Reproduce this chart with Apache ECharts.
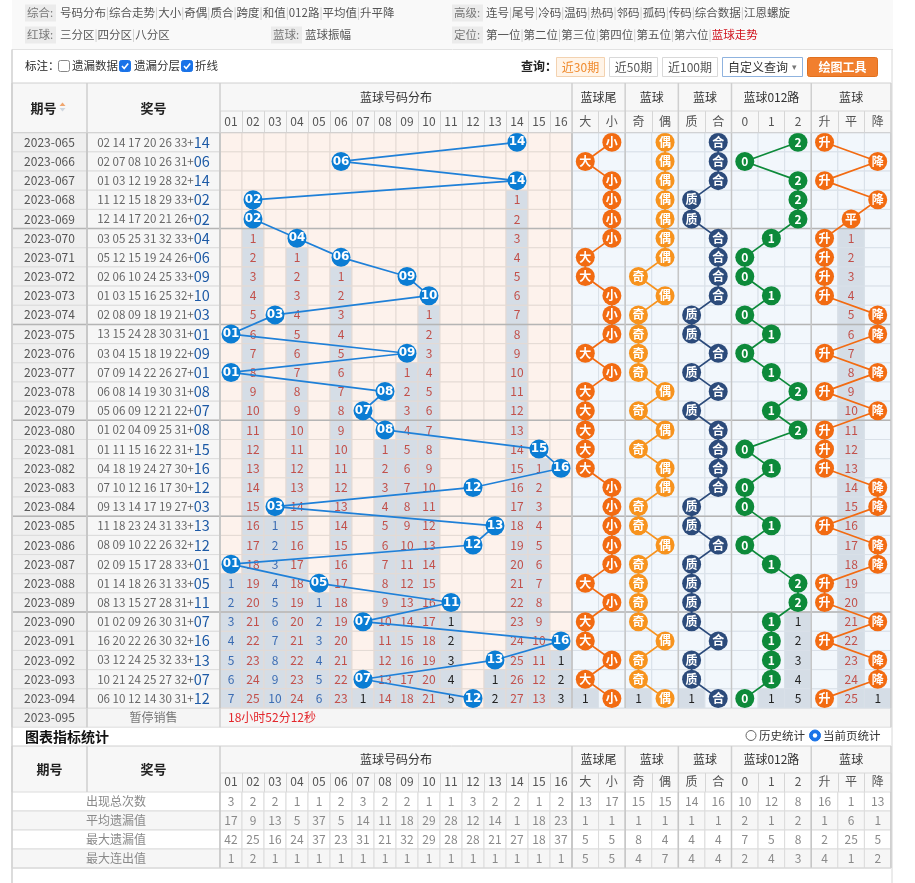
<!DOCTYPE html>
<html><head><meta charset="utf-8">
<script src="https://cdn.jsdelivr.net/npm/echarts/dist/echarts.min.js"></script>
<style>html,body{margin:0;padding:0;background:#fff}#c{width:915px;height:883px}</style>
</head><body><div id="c"></div>
<script>
// ---------------- DATA ----------------
const periods = ['2023-065','2023-066','2023-067','2023-068','2023-069','2023-070','2023-071','2023-072','2023-073','2023-074',
  '2023-075','2023-076','2023-077','2023-078','2023-079','2023-080','2023-081','2023-082','2023-083','2023-084',
  '2023-085','2023-086','2023-087','2023-088','2023-089','2023-090','2023-091','2023-092','2023-093','2023-094'];
const redBalls = ['02 14 17 20 26 33','02 07 08 10 26 31','01 03 12 19 28 32','11 12 15 18 29 33','12 14 17 20 21 26',
  '03 05 25 31 32 33','05 12 15 19 24 26','02 06 10 24 25 33','01 03 15 16 25 32','02 08 09 18 19 21',
  '13 15 24 28 30 31','03 04 15 18 19 22','07 09 14 22 26 27','06 08 14 19 30 31','05 06 09 12 21 22',
  '01 02 04 09 25 31','01 11 15 16 22 31','04 18 19 24 27 30','07 10 12 16 17 30','09 13 14 17 19 27',
  '11 18 23 24 31 33','08 09 10 22 26 32','02 09 15 17 28 33','01 14 18 26 31 33','08 13 15 27 28 31',
  '01 02 09 26 30 31','16 20 22 26 30 32','03 12 24 25 32 33','10 21 24 25 27 32','06 10 12 14 30 31'];
const blueBalls = ['14','06','14','02','02','04','06','09','10','03','01','09','01','08','07',
  '08','15','16','12','03','13','12','01','05','11','07','16','13','07','12'];
const blueCols = ['01','02','03','04','05','06','07','08','09','10','11','12','13','14','15','16'];
const tailSize = ['小','大','小','小','小','小','大','大','小','小','小','大','小','大','大',
  '大','大','大','小','小','小','小','小','大','小','大','大','小','大','小'];
const parity = ['偶','偶','偶','偶','偶','偶','偶','奇','偶','奇','奇','奇','奇','偶','奇',
  '偶','奇','偶','偶','奇','奇','偶','奇','奇','奇','奇','偶','奇','奇','偶'];
const primality = ['合','合','合','质','质','合','合','合','合','质','质','合','质','合','质',
  '合','合','合','合','质','质','合','质','质','质','质','合','质','质','合'];
const route012 = ['2','0','2','2','2','1','0','0','1','0','1','0','1','2','1',
  '2','0','1','0','0','1','0','1','2','2','1','1','1','1','0'];
const trend = ['升','降','升','降','平','升','升','升','升','降','降','升','降','升','降',
  '升','升','升','降','降','升','降','降','升','升','降','升','降','降','升'];
const rightCols = ['大','小','奇','偶','质','合','0','1','2','升','平','降'];
const statLabels = ['出现总次数','平均遗漏值','最大遗漏值','最大连出值'];
const statTotal  = [3,2,2,1,1,2,3,2,2,1,1,3,2,2,1,2, 13,17,15,15,14,16,10,12,8,16,1,13];
const statAvg    = [17,9,13,5,37,5,14,11,18,29,28,12,14,1,18,23, 1,1,1,1,1,1,2,1,2,1,6,1];
const statMax    = [42,25,16,24,37,23,31,21,32,29,28,28,21,27,18,37, 5,5,8,4,4,4,7,5,8,2,25,5];
const statStreak = [1,2,1,1,1,1,1,1,1,1,1,1,1,1,1,1, 5,5,4,7,4,4,2,4,3,4,1,2];
const groupTitles = ['蓝球尾','蓝球','蓝球','蓝球012路','蓝球'];
const navRow1a = ['号码分布','综合走势','大小','奇偶','质合','跨度','和值','012路','平均值','升平降'];
const navRow1b = ['连号','尾号','冷码','温码','热码','邻码','孤码','传码','综合数据','江恩螺旋'];
const navRow2a = ['三分区','四分区','八分区'];
const navRow2b = ['蓝球振幅'];
const navRow2c = ['第一位','第二位','第三位','第四位','第五位','第六位','蓝球走势'];

// ---------------- LAYOUT ----------------
const FONT = "'Noto Sans CJK SC','Noto Sans',sans-serif";
const X0 = 12, X1 = 891;
const QI = [12, 75], JIANG = [87, 133], DIST = [220, 352], RIGHT = [572, 319];
const MAIN_TOP = 132.7, MAIN_H = 575.3;
const STAT_TOP = 792, STAT_H = 76;
const HDR1 = {top: 83, mid: 111, bot: MAIN_TOP};
const HDR2 = {top: 746, mid: 773, bot: STAT_TOP};
const RCW = RIGHT[1] / 12;
const groupSpans = [[0,2],[2,4],[4,6],[6,9],[9,12]];
const groupDefs = [
  {vals: tailSize, cats: ['大','小'], color: '#f26b12'},
  {vals: parity, cats: ['奇','偶'], color: '#f7931e'},
  {vals: primality, cats: ['质','合'], color: '#2c4b7b'},
  {vals: route012, cats: ['0','1','2'], color: '#0d8a3a'},
  {vals: trend, cats: ['升','平','降'], color: '#f26b12'}
];
const GRAY = '#d5dde6';
const ROWS = periods.length;

function omissionColor(n){ return n <= 5 ? '#222' : (n <= 10 ? '#3b6cb3' : '#c2504a'); }
// omission layer: cells after the last appearance of each category
function layer(values, cats, offset){
  const out = [];
  cats.forEach((cat, ci) => {
    let last = -1;
    values.forEach((v, r) => { if (v === cat) last = r; });
    if (last < 0) return;
    const fin = values.length - 1 - last;
    for (let r = last + 1; r < values.length; r++) out.push({c: ci + offset, r, n: r - last, color: omissionColor(fin)});
  });
  return out;
}
const distLayer = layer(blueBalls, blueCols, 0);
let rightLayer = [];
groupDefs.forEach((g, gi) => { rightLayer = rightLayer.concat(layer(g.vals, g.cats, groupSpans[gi][0])); });
const distGray = new Set(distLayer.map(d => d.c + '_' + d.r));
const rightGray = new Set(rightLayer.map(d => d.c + '_' + d.r));

// ---------------- SERIES HELPERS ----------------
function cellSeries(gi, nCols, nRows, fillFn, stroke){
  const data = [];
  for (let r = 0; r < nRows; r++) for (let c = 0; c < nCols; c++) data.push([c, r]);
  return {type:'custom', xAxisIndex: gi, yAxisIndex: gi, z: 1, silent: true, data,
    renderItem(p, api){
      const c = api.value(0), r = api.value(1);
      const pt = api.coord([c, r]), sz = api.size([1, 1]);
      return {type:'rect', shape:{x: pt[0]-sz[0]/2, y: pt[1]-sz[1]/2, width: sz[0], height: sz[1]},
        style:{fill: fillFn(c, r), stroke, lineWidth: 1}};
    }};
}
function sepSeries(gi, rows, cols, edges){
  const data = rows.map(r => [0, r, 0]).concat(cols.map(c => [c, 0, 1]));
  if (edges) { data.push([0,0,2]); data.push([0,0,3]); }
  return {type:'custom', xAxisIndex: gi, yAxisIndex: gi, z: 3, silent: true, data,
    renderItem(p, api){
      const cs = p.coordSys;
      const t = api.value(2);
      const pt = api.coord([api.value(0), api.value(1)]), sz = api.size([1, 1]);
      if (t === 0) { const y = pt[1]-sz[1]/2; return {type:'line', shape:{x1: cs.x, y1: y, x2: cs.x+cs.width, y2: y}, style:{stroke:'#b5b5b5', lineWidth: 1.5}}; }
      let x = t === 1 ? pt[0]-sz[0]/2 : (t === 2 ? cs.x : cs.x + cs.width);
      return {type:'line', shape:{x1: x, y1: cs.y, x2: x, y2: cs.y+cs.height}, style:{stroke:'#c6c6c6', lineWidth: 1.5}};
    }};
}
function textSeries(gi, items){
  return {type:'custom', xAxisIndex: gi, yAxisIndex: gi, z: 5, silent: true,
    data: items.map(it => [it.c, it.r]),
    renderItem(p, api){
      const it = items[p.dataIndex];
      const pt = api.coord([api.value(0), api.value(1)]);
      return {type:'text', style:{text: it.text, x: pt[0], y: pt[1], align:'center', verticalAlign:'middle',
        textAlign:'center', textVerticalAlign:'middle', fill: it.color || '#555', font: it.font || ('12px ' + FONT), rich: it.rich}};
    }};
}
function ballSeries(gi, data, color, lineColor, font){
  return [
    {type:'line', xAxisIndex: gi, yAxisIndex: gi, z: 6, silent: true, symbol:'none', data,
      lineStyle:{color: lineColor, width: 1.7}},
    {type:'scatter', xAxisIndex: gi, yAxisIndex: gi, z: 7, silent: true, data, symbolSize: 19,
      itemStyle:{color, opacity: 1},
      label:{show: true, position:'inside', formatter: p => p.value[0], color:'#fff', fontSize: 12,
        fontWeight: 'bold', fontFamily: font}}
  ];
}

// ---------------- AXES ----------------
function gridDef(l, t, w, h){ return {left: l, top: t, width: w, height: h, containLabel: false, show: false}; }
const grids = [
  gridDef(QI[0], MAIN_TOP, QI[1], MAIN_H), gridDef(JIANG[0], MAIN_TOP, JIANG[1], MAIN_H),
  gridDef(DIST[0], MAIN_TOP, DIST[1], MAIN_H), gridDef(RIGHT[0], MAIN_TOP, RIGHT[1], MAIN_H),
  gridDef(X0, STAT_TOP, DIST[0]-X0, STAT_H), gridDef(DIST[0], STAT_TOP, DIST[1], STAT_H),
  gridDef(RIGHT[0], STAT_TOP, RIGHT[1], STAT_H)
];
function hiddenX(gi, cats){ return {type:'category', gridIndex: gi, data: cats, show: false}; }
function headX(gi, cats, tickLen){
  return {type:'category', gridIndex: gi, data: cats, position:'top',
    axisLine:{show: true, lineStyle:{color:'#d6d6d6'}},
    axisTick:{show: true, length: tickLen, lineStyle:{color:'#d6d6d6'}},
    axisLabel:{show: true, margin: 5, color:'#555', fontSize: 12, fontFamily: FONT, interval: 0},
    splitLine:{show: false}};
}
function yCat(gi, cats){ return {type:'category', gridIndex: gi, data: cats, inverse: true, show: false}; }
const xAxes = [hiddenX(0,['期号']), hiddenX(1,['奖号']), headX(2, blueCols, HDR1.bot-HDR1.mid), headX(3, rightCols, HDR1.bot-HDR1.mid),
  hiddenX(4,['统计']), headX(5, blueCols, HDR2.bot-HDR2.mid), headX(6, rightCols, HDR2.bot-HDR2.mid)];
const yAxes = [yCat(0, periods), yCat(1, periods), yCat(2, periods), yCat(3, periods),
  yCat(4, statLabels), yCat(5, statLabels), yCat(6, statLabels)];

// ---------------- SERIES ----------------
const series = [];
const sepRows = [5, 10, 15, 20, 25];
series.push(cellSeries(0, 1, ROWS, () => '#efefef', '#dcdcdc'));
series.push(cellSeries(1, 1, ROWS, () => '#f6f6f6', '#dcdcdc'));
series.push(cellSeries(2, 16, ROWS, (c, r) => distGray.has(c+'_'+r) ? GRAY : '#fdf2ec', '#e4dad4'));
series.push(cellSeries(3, 12, ROWS, (c, r) => rightGray.has(c+'_'+r) ? GRAY : '#f2f7fc', '#d9e0e8'));
series.push(sepSeries(0, sepRows, [], true));
series.push(sepSeries(1, sepRows, [], true));
series.push(sepSeries(2, sepRows, [], true));
series.push(sepSeries(3, sepRows, groupSpans.slice(1).map(s => s[0]), true));

series.push(textSeries(0, periods.map((p, i) => ({c: 0, r: i, text: p, color: '#555'}))));
series.push(textSeries(1, redBalls.map((s, i) => ({c: 0, r: i, text: '{a|' + s + '+}{b|' + blueBalls[i] + '}',
  rich: {a: {fill: '#666', fontSize: 11.6, fontFamily: FONT}, b: {fill: '#1d5aa6', fontSize: 14.5, fontFamily: FONT}}}))));
series.push(textSeries(2, distLayer.map(d => ({c: d.c, r: d.r, text: String(d.n), color: d.color}))));
series.push(textSeries(3, rightLayer.map(d => ({c: d.c, r: d.r, text: String(d.n), color: d.color}))));

ballSeries(2, blueBalls.map((b, i) => [b, periods[i]]), '#0b7dd4', '#1f80d8', "'DejaVu Sans'").forEach(s => series.push(s));
groupDefs.forEach(g => {
  ballSeries(3, g.vals.map((v, i) => [v, periods[i]]), g.color, g.color, FONT).forEach(s => series.push(s));
});

// stats
const statRows = [statTotal, statAvg, statMax, statStreak];
const statFill = (c, r) => r % 2 === 1 ? '#f6f6f6' : '#ffffff';
series.push(cellSeries(4, 1, 4, statFill, '#dcdcdc'));
series.push(cellSeries(5, 16, 4, statFill, '#dcdcdc'));
series.push(cellSeries(6, 12, 4, statFill, '#dcdcdc'));
series.push(sepSeries(5, [], [], true));
series.push(sepSeries(6, [], groupSpans.slice(1).map(s => s[0]), true));
series.push(textSeries(4, statLabels.map((s, i) => ({c: 0, r: i, text: s, color: '#8a8a8a'}))));
const sDist = [], sRight = [];
statRows.forEach((row, r) => row.forEach((v, k) => {
  if (k < 16) sDist.push({c: k, r, text: String(v), color: '#8a8a8a'});
  else sRight.push({c: k - 16, r, text: String(v), color: '#8a8a8a'});
}));
series.push(textSeries(5, sDist));
series.push(textSeries(6, sRight));

// ---------------- GRAPHIC (chrome) ----------------
const G = [];
const NAVF = '11.5px ' + FONT;
function gline(x1, y1, x2, y2, c, w){ G.push({type:'line', silent:true, z: 10, shape:{x1, y1, x2, y2}, style:{stroke: c || '#d6d6d6', lineWidth: w || 1}}); }
function grect(x, y, w, h, fill, stroke, z, r){ G.push({type:'rect', silent:true, z: z || 0, shape:{x, y, width: w, height: h, r: r || 0}, style:{fill, stroke: stroke || null, lineWidth: 1}}); }
function gtext(x, y, text, opt){
  opt = opt || {};
  G.push({type:'text', silent:true, z: 11, style:{x, y, text, fill: opt.color || '#555', font: opt.font || ('12px ' + FONT),
    textAlign: opt.align || 'left', align: opt.align || 'left', textVerticalAlign:'middle', verticalAlign:'middle', rich: opt.rich}});
}
function navItems(x, y, items, lastRed){
  const txt = items.map((t, i) => (lastRed && i === items.length - 1) ? '{r|' + t + '}' : '{n|' + t + '}').join('{s||}');
  gtext(x, y, txt, {rich: {n: {fill: '#555', fontSize: 11.5, fontFamily: FONT}, s: {fill: '#c8c8c8', fontSize: 11.5, fontFamily: FONT},
    r: {fill: '#d0111b', fontSize: 11.5, fontFamily: FONT}}});
}
function navLabel(x, y, t){ grect(x - 2, y - 8.5, 31, 17, '#ebebeb', null, 1); gtext(x, y, t, {color: '#777', font: NAVF}); }

// nav area
grect(X0, 0, 881, 49, '#f9f9f9', null, 0);
gline(X0, 49.5, 893, 49.5, '#e2e2e2');
navLabel(27, 13, '综合:'); navItems(60, 13, navRow1a);
navLabel(454, 13, '高级:'); navItems(486, 13, navRow1b);
navLabel(27, 35, '红球:'); navItems(60, 35, navRow2a);
navLabel(273, 35, '蓝球:'); navItems(305, 35, navRow2b);
navLabel(454, 35, '定位:'); navItems(486, 35, navRow2c, true);

// annotation row
gtext(25, 66, '标注：', {color: '#222', font: NAVF});
grect(58.5, 60.5, 11, 11, '#fff', '#888', 12, 2);
gtext(72, 66, '遗漏数据', {color: '#333', font: NAVF});
[[119.5, 60.5], [181.5, 60.5]].forEach(p => {
  grect(p[0], p[1], 11, 11, '#1a73e8', '#1a73e8', 12, 2);
  G.push({type:'polyline', silent:true, z: 13, shape:{points:[[p[0]+2.5, p[1]+5.5],[p[0]+4.7, p[1]+8],[p[0]+8.7, p[1]+3]]}, style:{stroke:'#fff', lineWidth: 1.6, fill: null}});
});
gtext(134, 66, '遗漏分层', {color: '#333', font: NAVF});
gtext(195, 66, '折线', {color: '#333', font: NAVF});
gtext(521, 66, '查询：', {color: '#222', font: 'bold 12px ' + FONT});
grect(556.5, 57.5, 48, 19, '#fff4e8', '#f3d2b0', 1);
gtext(580.5, 67, '近30期', {color: '#f08a2c', align: 'center'});
grect(609.5, 57.5, 48, 19, '#fff', '#d9d9d9', 1);
gtext(633.5, 67, '近50期', {color: '#555', align: 'center'});
grect(662.5, 57.5, 55, 19, '#fff', '#d9d9d9', 1);
gtext(690, 67, '近100期', {color: '#555', align: 'center'});
grect(722.5, 57.5, 80, 19, '#fff', '#8fb3df', 1);
gtext(758, 67, '自定义查询', {color: '#333', align: 'center'});
gtext(794, 67, '▾', {color: '#777', align: 'center', font: '9px ' + FONT});
grect(807.5, 57.5, 70, 19, '#f17f2e', '#e0701f', 1, 2);
gtext(842.5, 67, '绘图工具', {color: '#fff', align: 'center', font: 'bold 12px ' + FONT});

// headers
function header(h, main){
  grect(X0, h.top, X1 - X0, h.bot - h.top, '#f7f7f7', null, 0);
  gline(X0, h.top, X1, h.top, '#d0d0d0');
  gline(DIST[0], h.mid, X1, h.mid, '#d8d8d8');
  const bounds = [X0, JIANG[0], DIST[0], RIGHT[0]].concat(groupSpans.slice(1).map(s => RIGHT[0] + s[0] * RCW)).concat([X1]);
  bounds.forEach(x => gline(x, h.top, x, h.bot, '#cfcfcf', 1.5));
  const cy = (h.top + h.bot) / 2, my = (h.top + h.mid) / 2;
  gtext((X0 + JIANG[0]) / 2 - (main ? 6 : 0), cy, '期号', {align: 'center', color: '#222', font: 'bold 13px ' + FONT});
  gtext((JIANG[0] + DIST[0]) / 2, cy, '奖号', {align: 'center', color: '#222', font: 'bold 13px ' + FONT});
  gtext(DIST[0] + DIST[1] / 2, my, '蓝球号码分布', {align: 'center', color: '#333'});
  groupSpans.forEach((s, i) => gtext(RIGHT[0] + (s[0] + s[1]) / 2 * RCW, my, groupTitles[i], {align: 'center', color: '#333'}));
  if (main) {
    G.push({type:'polygon', silent:true, z: 12, shape:{points:[[59.5, 106],[65.5, 106],[62.5, 102.5]]}, style:{fill:'#f0a66e'}});
    G.push({type:'polygon', silent:true, z: 12, shape:{points:[[59.5, 108],[65.5, 108],[62.5, 111.5]]}, style:{fill:'#cfd6de'}});
  }
}
header(HDR1, true);
header(HDR2, false);

// row 095
const r95t = MAIN_TOP + MAIN_H, r95b = r95t + 19.2;
grect(X0, r95t, QI[1], r95b - r95t, '#efefef', '#dcdcdc', 0);
grect(JIANG[0], r95t, X1 - JIANG[0], r95b - r95t, '#f5f5f5', '#dcdcdc', 0);
gline(JIANG[0], r95t, JIANG[0], r95b, '#cfcfcf', 1.5);
gline(DIST[0], r95t, DIST[0], r95b, '#cfcfcf', 1.5);
gline(X0, r95t, X0, r95b, '#cfcfcf', 1.5);
gline(X1, r95t, X1, r95b, '#cfcfcf', 1.5);
gtext((X0 + JIANG[0]) / 2, (r95t + r95b) / 2, '2023-095', {align: 'center', color: '#555'});
gtext((JIANG[0] + DIST[0]) / 2, (r95t + r95b) / 2, '暂停销售', {align: 'center', color: '#777'});
gtext(228, (r95t + r95b) / 2, '18小时52分12秒', {color: '#e3262b'});

// stats title
gtext(25, 736.5, '图表指标统计', {color: '#111', font: 'bold 14px ' + FONT});
G.push({type:'circle', silent:true, z: 12, shape:{cx: 751, cy: 735.5, r: 5}, style:{fill:'#fff', stroke:'#666', lineWidth: 1}});
gtext(759, 736, '历史统计', {color: '#333', font: NAVF});
G.push({type:'circle', silent:true, z: 12, shape:{cx: 815, cy: 735.5, r: 5.5}, style:{fill:'#1a73e8', stroke:'#1a73e8', lineWidth: 1}});
G.push({type:'circle', silent:true, z: 13, shape:{cx: 815, cy: 735.5, r: 2.2}, style:{fill:'#fff'}});
gtext(823, 736, '当前页统计', {color: '#333', font: NAVF});

// outer frame
gline(X0, 49.5, X0, 883, '#d0d0d0', 1.5);
gline(X1 + 1, 49.5, X1 + 1, 883, '#d8d8d8', 1);
gline(X0, STAT_TOP + STAT_H, X1, STAT_TOP + STAT_H, '#d6d6d6');
gline(X0, MAIN_TOP, X1, MAIN_TOP, '#cfcfcf');

const chart = echarts.init(document.getElementById('c'), null, {renderer: 'canvas'});
chart.setOption({
  animation: false,
  backgroundColor: '#fff',
  textStyle: {fontFamily: FONT},
  grid: grids, xAxis: xAxes, yAxis: yAxes, series, graphic: {elements: G}
});
</script></body></html>
